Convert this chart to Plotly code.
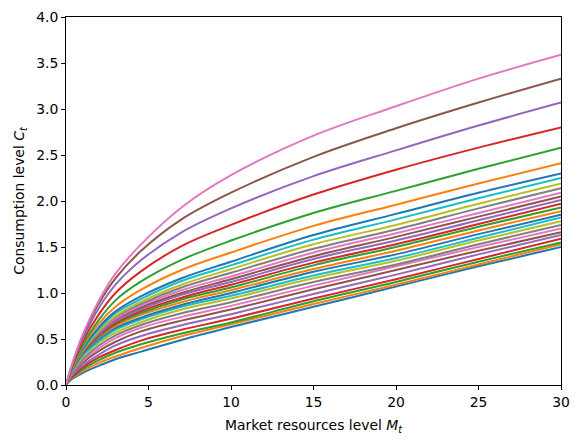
import plotly.graph_objects as go

m_grid = [0, 0.25, 0.5, 1, 2, 3, 4.5, 7, 10, 15, 20, 25, 30]

# Consumption curves, one per persistent income level (lowest first)
curve_00 = [0, 0.05, 0.08, 0.13, 0.21, 0.28, 0.36, 0.49, 0.63, 0.85, 1.07, 1.29, 1.50]
curve_01 = [0, 0.06, 0.09, 0.15, 0.24, 0.31, 0.40, 0.53, 0.66, 0.88, 1.09, 1.31, 1.53]
curve_02 = [0, 0.06, 0.10, 0.17, 0.27, 0.35, 0.44, 0.56, 0.68, 0.91, 1.12, 1.34, 1.55]
curve_03 = [0, 0.07, 0.11, 0.19, 0.30, 0.38, 0.48, 0.60, 0.72, 0.94, 1.15, 1.37, 1.59]
curve_04 = [0, 0.08, 0.13, 0.21, 0.33, 0.43, 0.53, 0.65, 0.77, 0.99, 1.20, 1.42, 1.63]
curve_05 = [0, 0.09, 0.15, 0.24, 0.37, 0.47, 0.58, 0.70, 0.82, 1.04, 1.25, 1.46, 1.66]
curve_06 = [0, 0.09, 0.16, 0.26, 0.40, 0.51, 0.62, 0.74, 0.86, 1.08, 1.29, 1.50, 1.70]
curve_07 = [0, 0.10, 0.17, 0.28, 0.43, 0.54, 0.65, 0.78, 0.90, 1.12, 1.31, 1.53, 1.74]
curve_08 = [0, 0.11, 0.18, 0.30, 0.46, 0.57, 0.68, 0.82, 0.94, 1.16, 1.35, 1.57, 1.78]
curve_09 = [0, 0.11, 0.19, 0.32, 0.48, 0.60, 0.71, 0.85, 0.97, 1.19, 1.38, 1.60, 1.82]
curve_10 = [0, 0.12, 0.20, 0.34, 0.50, 0.62, 0.73, 0.87, 1.00, 1.23, 1.42, 1.64, 1.85]
curve_11 = [0, 0.12, 0.21, 0.35, 0.52, 0.64, 0.76, 0.90, 1.03, 1.26, 1.46, 1.68, 1.89]
curve_12 = [0, 0.12, 0.21, 0.35, 0.53, 0.66, 0.78, 0.93, 1.06, 1.30, 1.50, 1.72, 1.93]
curve_13 = [0, 0.12, 0.21, 0.35, 0.54, 0.67, 0.80, 0.95, 1.09, 1.33, 1.53, 1.75, 1.97]
curve_14 = [0, 0.12, 0.21, 0.36, 0.55, 0.69, 0.82, 0.98, 1.12, 1.37, 1.57, 1.79, 2.01]
curve_15 = [0, 0.12, 0.21, 0.36, 0.56, 0.71, 0.84, 1.00, 1.15, 1.40, 1.61, 1.83, 2.05]
curve_16 = [0, 0.12, 0.22, 0.37, 0.57, 0.72, 0.86, 1.03, 1.18, 1.44, 1.65, 1.87, 2.09]
curve_17 = [0, 0.12, 0.22, 0.37, 0.58, 0.74, 0.88, 1.06, 1.22, 1.48, 1.69, 1.92, 2.14]
curve_18 = [0, 0.12, 0.22, 0.37, 0.59, 0.75, 0.90, 1.09, 1.26, 1.53, 1.74, 1.97, 2.19]
curve_19 = [0, 0.12, 0.22, 0.38, 0.61, 0.78, 0.93, 1.13, 1.30, 1.58, 1.80, 2.03, 2.25]
curve_20 = [0, 0.12, 0.22, 0.39, 0.63, 0.80, 0.96, 1.16, 1.34, 1.63, 1.86, 2.09, 2.30]
curve_21 = [0, 0.13, 0.23, 0.41, 0.67, 0.85, 1.03, 1.25, 1.44, 1.73, 1.96, 2.19, 2.41]
curve_22 = [0, 0.13, 0.25, 0.43, 0.71, 0.92, 1.12, 1.36, 1.57, 1.87, 2.11, 2.35, 2.58]
curve_23 = [0, 0.14, 0.26, 0.47, 0.77, 1.00, 1.23, 1.51, 1.74, 2.07, 2.34, 2.58, 2.80]
curve_24 = [0, 0.15, 0.28, 0.50, 0.84, 1.09, 1.35, 1.66, 1.92, 2.27, 2.55, 2.82, 3.07]
curve_25 = [0, 0.16, 0.29, 0.53, 0.89, 1.16, 1.45, 1.80, 2.09, 2.48, 2.79, 3.07, 3.33]
curve_26 = [0, 0.16, 0.30, 0.54, 0.92, 1.21, 1.52, 1.93, 2.28, 2.71, 3.03, 3.33, 3.59]

curves = [curve_00, curve_01, curve_02, curve_03, curve_04, curve_05, curve_06,
          curve_07, curve_08, curve_09, curve_10, curve_11, curve_12, curve_13,
          curve_14, curve_15, curve_16, curve_17, curve_18, curve_19, curve_20,
          curve_21, curve_22, curve_23, curve_24, curve_25, curve_26]

x_ticks = [0, 5, 10, 15, 20, 25, 30]
y_ticks = [0, 0.5, 1.0, 1.5, 2.0, 2.5, 3.0, 3.5, 4.0]

# matplotlib default colour cycle
palette = ['#1f77b4', '#ff7f0e', '#2ca02c', '#d62728', '#9467bd',
           '#8c564b', '#e377c2', '#7f7f7f', '#bcbd22', '#17becf']

fig = go.Figure()
for i, c in enumerate(curves):
    fig.add_trace(go.Scatter(
        x=m_grid,
        y=c,
        mode='lines',
        line=dict(color=palette[i % 10], width=2, shape='spline', smoothing=1.0),
        showlegend=False,
        hoverinfo='skip',
    ))

axis_style = dict(
    showline=True, linecolor='black', linewidth=1, mirror=True,
    ticks='outside', ticklen=4, tickwidth=1, tickcolor='black',
    showgrid=False, zeroline=False, automargin=False,
    tickfont=dict(size=13.9, color='black'),
)

# page body adds an 8px offset, so the figure is a bit smaller than the window
fig.update_layout(
    width=572,
    height=433,
    margin=dict(l=58, r=19, t=9, b=56),
    paper_bgcolor='white',
    plot_bgcolor='white',
    font=dict(family='DejaVu Sans', color='black'),
    xaxis=dict(range=[0, 30], tickvals=x_ticks,
               title=dict(text='Market resources level <i>M</i><sub><i>t</i></sub>',
                          font=dict(size=13.9), standoff=11),
               **axis_style),
    yaxis=dict(range=[0, 4], tickvals=y_ticks, tickformat='.1f',
               title=dict(text='Consumption level <i>C</i><sub><i>t</i></sub>',
                          font=dict(size=13.9), standoff=8),
               **axis_style),
)

fig.write_html("out.html")
